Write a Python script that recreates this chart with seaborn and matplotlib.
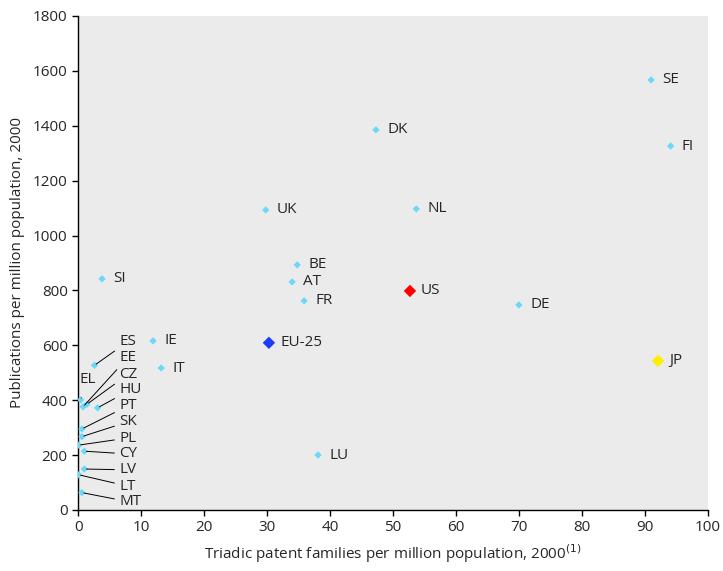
import matplotlib
matplotlib.use("Agg")
import matplotlib.pyplot as plt
import seaborn as sns
import pandas as pd

# ------- Data -------
countries = ["SE", "FI", "DK", "UK", "NL", "BE", "AT", "FR", "DE", "SI", "IE", "IT", "LU",
             "ES", "EL", "EE", "CZ", "HU", "PT", "SK", "PL", "CY", "LV", "LT", "MT"]
patents = [91.0, 94.1, 47.3, 29.8, 53.7, 34.8, 34.0, 35.9, 70.0, 3.8, 11.9, 13.2, 38.1,
           2.6, 0.4, 0.8, 1.4, 3.1, 0.6, 0.6, 0.1, 1.0, 1.0, 0.1, 0.6]
publications = [1567, 1326, 1385, 1093, 1097, 893, 831, 762, 747, 842, 616, 517, 200,
                527, 401, 376, 385, 372, 295, 267, 236, 214, 149, 128, 63]

blocs = ["US", "EU-25", "JP"]
bloc_patents = [52.7, 30.3, 92.1]
bloc_publications = [798, 609, 543]
bloc_colors = ["#ff0000", "#1a3cff", "#ffee00"]

# labels for the crowded corner: text placed in a column to the right
cluster = ["ES", "EE", "CZ", "HU", "PT", "SK", "PL", "CY", "LV", "LT", "MT"]
cluster_label_y = [612, 554, 494, 437, 379, 321, 262, 204, 146, 87, 29]

df = pd.DataFrame({"country": countries, "patents": patents, "publications": publications})
bloc_df = pd.DataFrame({"country": blocs, "patents": bloc_patents, "publications": bloc_publications})

sns.set_style("ticks")
plt.rcParams["font.family"] = ["Open Sans", "DejaVu Sans"]

fig = plt.figure(figsize=(7.23, 5.71), dpi=100)
ax = fig.add_axes([0.108, 0.107, 0.871, 0.865])
ax.set_facecolor("#ebebeb")

sns.scatterplot(data=df, x="patents", y="publications", marker="D", s=14,
                color="#6ad8f7", edgecolor="none", ax=ax, zorder=3)
sns.scatterplot(data=bloc_df, x="patents", y="publications", hue="country",
                palette=bloc_colors, marker="D", s=40, edgecolor="none",
                legend=False, ax=ax, zorder=3)

fs = 11
for _, r in pd.concat([df, bloc_df]).iterrows():
    if r["country"] in cluster or r["country"] == "EL":
        continue
    ax.annotate(r["country"], (r["patents"], r["publications"]), xytext=(8, 0),
                textcoords="offset points", va="center", ha="left", fontsize=fs)

for name, ly in zip(cluster, cluster_label_y):
    row = df[df["country"] == name].iloc[0]
    ax.annotate(name, (row["patents"], row["publications"]), xytext=(6.5, ly),
                textcoords="data", va="center", ha="left", fontsize=fs,
                arrowprops=dict(arrowstyle="-", color="black", lw=0.7,
                                shrinkA=1, shrinkB=1.5))

el = df[df["country"] == "EL"].iloc[0]
ax.annotate("EL", (el["patents"], el["publications"]), xytext=(1.6, 476),
            textcoords="data", va="center", ha="center", fontsize=fs,
            arrowprops=dict(arrowstyle="-", color="black", lw=0.7, shrinkA=6, shrinkB=1.5))

ax.set_xlim(0, 100)
ax.set_ylim(0, 1800)
ax.set_xticks(range(0, 101, 10))
ax.set_yticks(range(0, 1801, 200))
ax.tick_params(labelsize=fs, length=4, width=1, color="black")
for side in ["top", "right"]:
    ax.spines[side].set_visible(False)
for side in ["left", "bottom"]:
    ax.spines[side].set_color("black")
    ax.spines[side].set_linewidth(1)

ax.set_xlabel("Triadic patent families per million population, 2000$^{(1)}$", fontsize=fs, labelpad=5)
ax.set_ylabel("Publications per million population, 2000", fontsize=fs, labelpad=6)

fig.savefig("out.png", dpi=100)
